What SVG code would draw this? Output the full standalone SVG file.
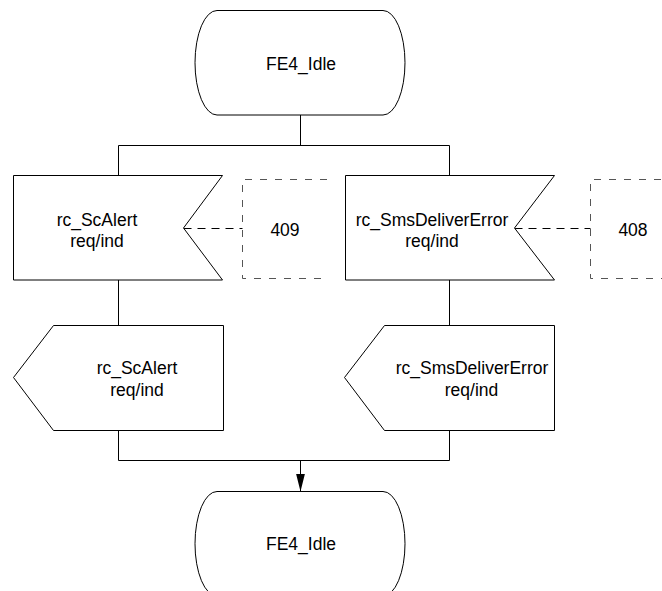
<svg xmlns="http://www.w3.org/2000/svg" width="662" height="591" viewBox="0 0 662 591">
<style>
.shape{fill:#fff;stroke:#000;stroke-width:1}
.conn{fill:none;stroke:#000;stroke-width:1}
.dash{fill:none;stroke:#000;stroke-width:1;stroke-dasharray:8 6}
.cmt{fill:none;stroke:#555;stroke-width:1;stroke-dasharray:7 8}
text{font-family:"Liberation Sans",Arial,sans-serif;font-size:17.5px;fill:#000;text-anchor:middle}
</style>
<defs>
<marker id="arrow" markerUnits="userSpaceOnUse" markerWidth="19" markerHeight="10" refX="18" refY="4.5" orient="auto">
<path d="M0,0 L18,4.5 L0,9 Z" fill="#000"/>
</marker>
</defs>
<rect width="662" height="591" fill="#fff"/>
<g id="connectors">
<path class="conn" d="M300.5,115 V145.5"/>
<path class="conn" d="M118.5,176 V145.5 H449.5 V176"/>
<path class="conn" d="M118.5,280 V325.5"/>
<path class="conn" d="M449.5,280 V325.5"/>
<path class="conn" d="M118.5,430.5 V460.5 H449.5 V430.5"/>
<path class="conn" d="M300.5,460.5 V491.5" marker-end="url(#arrow)"/>
<path class="dash" d="M183.5,228.5 H242.5"/>
<path class="dash" d="M514.5,228.5 H590.5"/>
</g>
<g id="state_top">
<path class="shape" d="M217,10.5 H383 A22,52.25 0 0 1 383,115 H217 A22,52.25 0 0 1 217,10.5 Z"/>
<text x="301" y="70">FE4_Idle</text>
</g>
<g id="input_scalert">
<path class="shape" d="M13.5,175.5 H222.5 L183.5,228 L222.5,280 H13.5 Z"/>
<text x="97" y="225.7">rc_ScAlert</text>
<text x="97" y="247.3">req/ind</text>
</g>
<g id="comment_409">
<path class="cmt" d="M327,179.5 H242.5 V278.5 H327"/>
<text x="285" y="235.7">409</text>
</g>
<g id="input_smsdelivererror">
<path class="shape" d="M345.5,175.5 H554.5 L514.5,228 L554.5,280 H345.5 Z"/>
<text x="432" y="225.7">rc_SmsDeliverError</text>
<text x="432" y="247.3">req/ind</text>
</g>
<g id="comment_408">
<path class="cmt" d="M676,179.5 H590.5 V278.5 H676"/>
<text x="633" y="235.7">408</text>
</g>
<g id="output_scalert">
<path class="shape" d="M13.5,377.5 L53.5,325.5 H223.5 V430.5 H53.5 Z"/>
<text x="137" y="374.3">rc_ScAlert</text>
<text x="137" y="396">req/ind</text>
</g>
<g id="output_smsdelivererror">
<path class="shape" d="M344.5,377.5 L384.5,325.5 H554.5 V430.5 H384.5 Z"/>
<text x="472" y="374.3">rc_SmsDeliverError</text>
<text x="471.5" y="396">req/ind</text>
</g>
<g id="state_bottom">
<path class="shape" d="M217,491.5 H383 A22,52.25 0 0 1 383,596 H217 A22,52.25 0 0 1 217,491.5 Z"/>
<text x="301" y="550">FE4_Idle</text>
</g>
</svg>
